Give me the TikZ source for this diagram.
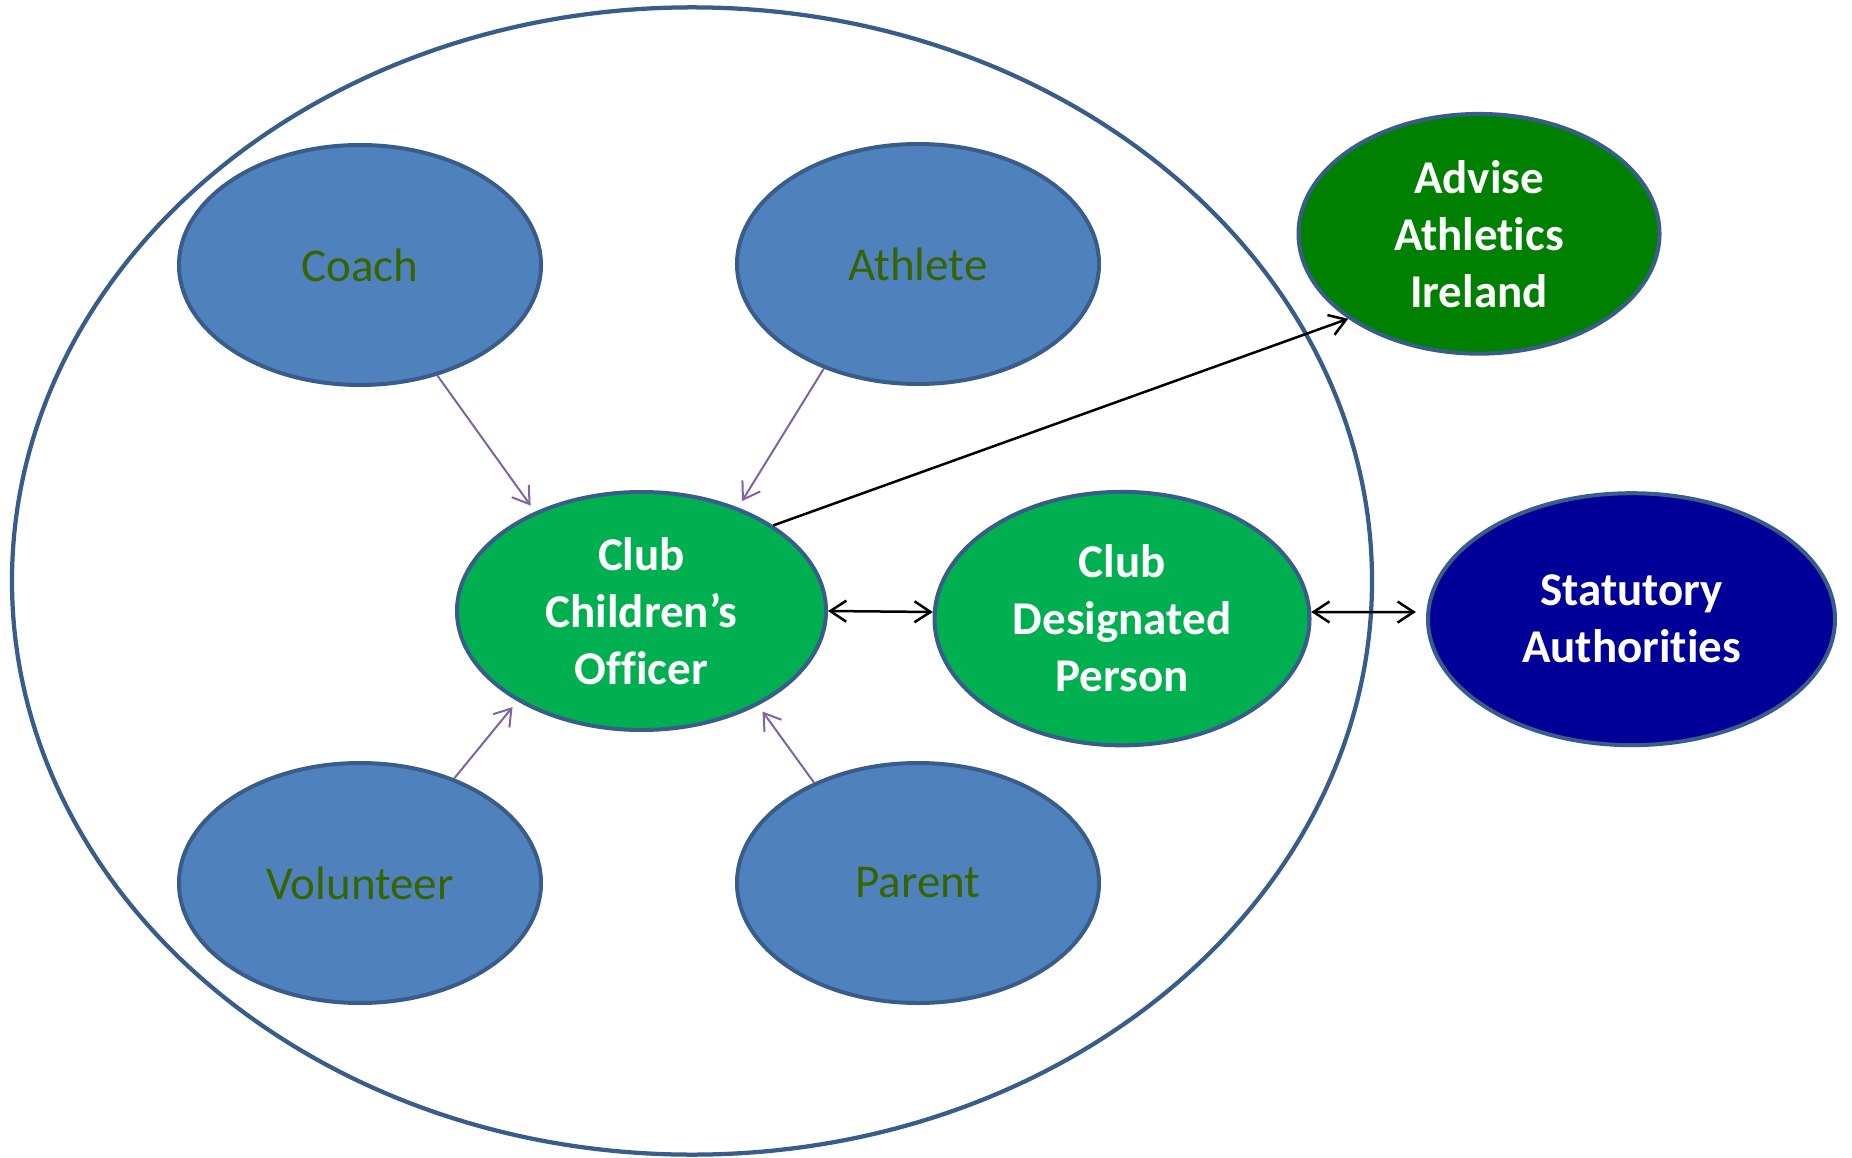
\documentclass[tikz,border=0pt]{standalone}
\usepackage{fontspec}
\setmainfont{Carlito}[Ligatures=NoCommon]
\usetikzlibrary{shapes.geometric,arrows.meta}
\definecolor{nodeblue}{HTML}{4F81BD}
\definecolor{edgeblue}{HTML}{385D8A}
\definecolor{txtgreen}{RGB}{56,100,0}
\definecolor{cgreen}{HTML}{00B050}
\definecolor{dgreen}{HTML}{008000}
\definecolor{navyfill}{HTML}{000099}
\definecolor{linkpurple}{HTML}{8064A2}
\begin{document}
\begin{tikzpicture}[x=0.4pt,y=-0.4pt,
  oval/.style={ellipse, draw=edgeblue, line width=1.6pt, inner sep=0pt, align=center,
    font=\fontsize{18.8pt}{22.8pt}\selectfont},
  member/.style={oval, fill=nodeblue, text=txtgreen, minimum width=144.8pt, minimum height=96pt},
  keynode/.style={oval, text=white, font=\fontsize{18.8pt}{22.8pt}\selectfont\bfseries},
  barb/.tip={Straight Barb[length=6.4pt,width=8.4pt]},
  feed/.style={draw=linkpurple, line width=0.8pt, -barb, shorten >=3pt},
  link/.style={draw=black, line width=1pt}
]
\useasboundingbox (0,0) rectangle (1852,1158);
% outer boundary
\node[ellipse, draw=edgeblue, line width=1.7pt, inner sep=0pt,
      minimum width=544pt, minimum height=458.9pt] (club) at (692,581) {};
% members
\node[member] (coach)     at (360,265) {Coach};
\node[member] (athlete)   at (918,264) {Athlete};
\node[member] (volunteer) at (360,883) {Volunteer};
\node[member] (parent)    at (918,883) {Parent};
% key nodes
\node[keynode, fill=cgreen, minimum width=147.6pt, minimum height=95.2pt] (cco) at (641.5,611)
  {Club\\Children’s\\Officer};
\node[keynode, fill=cgreen, minimum width=150pt, minimum height=101.4pt] (cdp) at (1122,618.6)
  {Club\\Designated\\Person};
\node[keynode, fill=dgreen, minimum width=144.4pt, minimum height=95.9pt] (aai) at (1479,233.8)
  {Advise\\Athletics\\Ireland};
\node[keynode, fill=navyfill, minimum width=162.8pt, minimum height=100.8pt] (stat) at (1631.5,619.2)
  {Statutory\\Authorities};
% connectors
\draw[feed] (coach.-55) -- (cco.137.7);
\draw[feed] (athlete.-132.7) -- (cco.47.7);
\draw[feed] (volunteer.48.4) -- (cco.-144.6);
\draw[feed] (parent.136.2) -- (cco.-39.9);
\draw[link, -barb] (cco.33.3) -- (aai.-147);
\draw[link, barb-barb] (cco.0) -- (cdp.178.2);
\draw[link, barb-barb, shorten >=4.2pt] (cdp.2.1) -- (stat.178.6);
\end{tikzpicture}
\end{document}
